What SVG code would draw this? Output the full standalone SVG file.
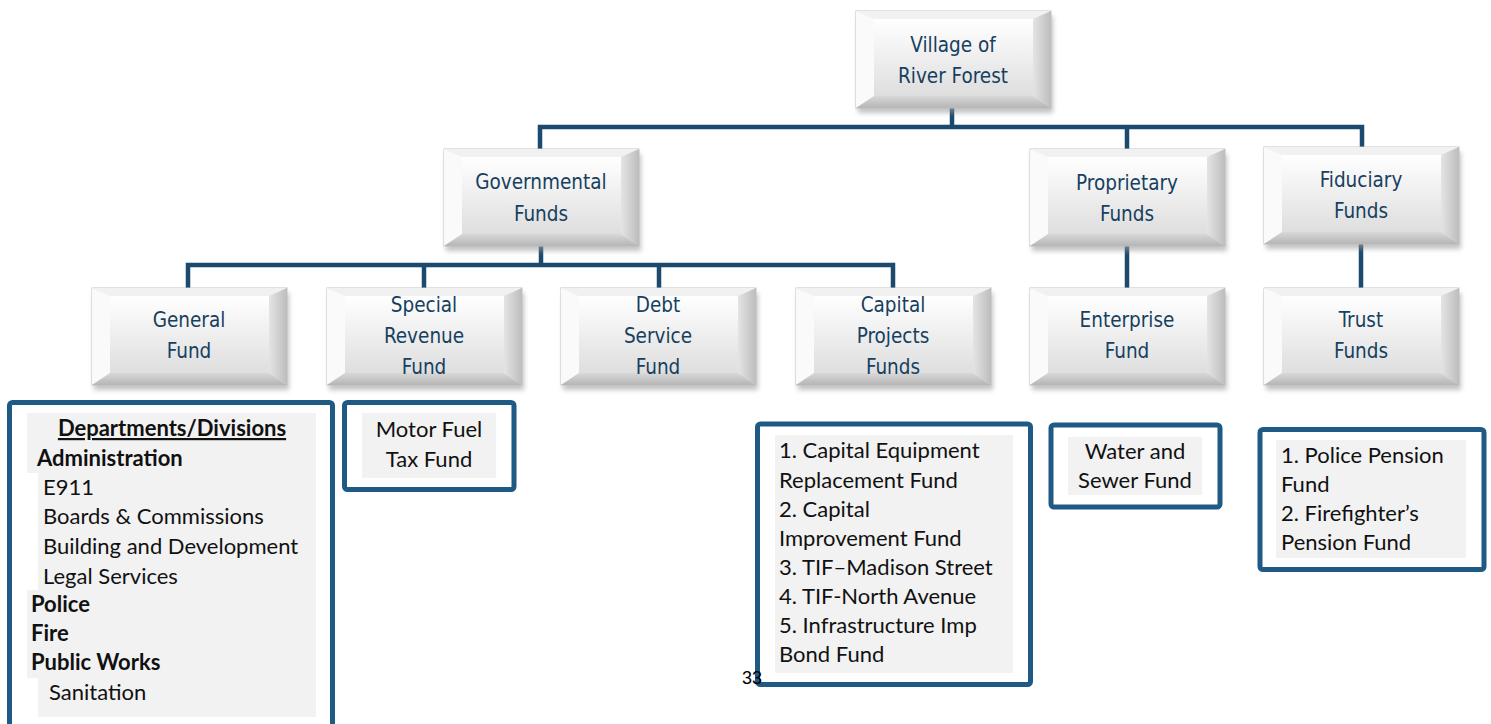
<svg xmlns="http://www.w3.org/2000/svg" xmlns:xlink="http://www.w3.org/1999/xlink" width="1491" height="724" viewBox="0 0 1491 724">
<style>
.bt{font-family:'DejaVu Sans Condensed','DejaVu Sans',sans-serif;font-stretch:condensed;font-size:20.5px;fill:#173f5f;text-anchor:middle}
.lt{font-family:Lato,'Liberation Sans',sans-serif;font-size:22px;fill:#111}
.b{font-weight:bold}
.c{text-anchor:middle}
.conn{fill:none;stroke:#1b4a6e;stroke-width:4.5;stroke-linejoin:miter;stroke-linecap:butt}
.lb{fill:#fff;stroke:#1f5a84;stroke-width:5}
.sh{fill:#f2f2f2}
</style>
<defs>
<linearGradient id="face" x1="0" y1="0" x2="0" y2="1">
<stop offset="0" stop-color="#ffffff"/>
<stop offset="1" stop-color="#dedede"/>
</linearGradient>
<linearGradient id="rb" x1="0" y1="0" x2="1" y2="0">
<stop offset="0" stop-color="#e4e4e4"/>
<stop offset="1" stop-color="#bdbdbd"/>
</linearGradient>
<linearGradient id="bb" x1="0" y1="0" x2="0" y2="1">
<stop offset="0" stop-color="#d8d8d8"/>
<stop offset="1" stop-color="#b5b5b5"/>
</linearGradient>
<filter id="shadow" x="-10%" y="-10%" width="125%" height="130%">
<feGaussianBlur stdDeviation="2.5"/>
</filter>
<g id="bevel">
<rect x="2" y="5" width="195" height="97" fill="#9a9a9a" opacity="0.6" filter="url(#shadow)"/>
<rect x="0" y="0" width="195" height="97" fill="#ececec" stroke="#c4c4c4" stroke-width="1"/>
<polygon points="0,0 195,0 177,8 18,8" fill="#f1f1f1"/>
<polygon points="0,0 18,8 18,85 0,97" fill="#fafafa"/>
<polygon points="195,0 195,97 177,85 177,8" fill="url(#rb)"/>
<polygon points="0,97 195,97 177,85 18,85" fill="url(#bb)"/>
<rect x="18" y="8" width="159" height="77" fill="url(#face)"/>
</g>
</defs>

<g id="connectors">
<path class="conn" d="M952,107 V127"/>
<path class="conn" d="M540,149 V127 H1362 V148"/>
<path class="conn" d="M1127,127 V149"/>
<path class="conn" d="M541,246 V265"/>
<path class="conn" d="M188,288 V265 H893 V288"/>
<path class="conn" d="M424,265 V288"/>
<path class="conn" d="M659,265 V288"/>
<path class="conn" d="M1127,246 V288"/>
<path class="conn" d="M1361,243 V288"/>
</g>

<g id="village">
<use xlink:href="#bevel" x="856" y="11"/>
<text class="bt" x="953" y="52">Village of</text>
<text class="bt" x="953" y="83">River Forest</text>
</g>

<g id="governmental">
<use xlink:href="#bevel" x="444" y="149"/>
<text class="bt" x="541" y="189">Governmental</text>
<text class="bt" x="541" y="221">Funds</text>
</g>

<g id="proprietary">
<use xlink:href="#bevel" x="1030" y="149"/>
<text class="bt" x="1127" y="190">Proprietary</text>
<text class="bt" x="1127" y="221">Funds</text>
</g>

<g id="fiduciary">
<use xlink:href="#bevel" x="1264" y="147"/>
<text class="bt" x="1361" y="187">Fiduciary</text>
<text class="bt" x="1361" y="218">Funds</text>
</g>

<g id="general">
<use xlink:href="#bevel" x="92" y="288"/>
<text class="bt" x="189" y="327">General</text>
<text class="bt" x="189" y="358">Fund</text>
</g>

<g id="special">
<use xlink:href="#bevel" x="327" y="288"/>
<text class="bt" x="424" y="312">Special</text>
<text class="bt" x="424" y="343">Revenue</text>
<text class="bt" x="424" y="374">Fund</text>
</g>

<g id="debt">
<use xlink:href="#bevel" x="561" y="288"/>
<text class="bt" x="658" y="312">Debt</text>
<text class="bt" x="658" y="343">Service</text>
<text class="bt" x="658" y="374">Fund</text>
</g>

<g id="capital">
<use xlink:href="#bevel" x="796" y="288"/>
<text class="bt" x="893" y="312">Capital</text>
<text class="bt" x="893" y="343">Projects</text>
<text class="bt" x="893" y="374">Funds</text>
</g>

<g id="enterprise">
<use xlink:href="#bevel" x="1030" y="288"/>
<text class="bt" x="1127" y="327">Enterprise</text>
<text class="bt" x="1127" y="358">Fund</text>
</g>

<g id="trust">
<use xlink:href="#bevel" x="1264" y="288"/>
<text class="bt" x="1361" y="327">Trust</text>
<text class="bt" x="1361" y="358">Funds</text>
</g>

<g id="departments-list">
<rect class="lb" x="9.5" y="402.5" width="323" height="340" rx="3"/>
<rect class="sh" x="27" y="413" width="289" height="60"/>
<rect class="sh" x="38" y="473" width="278" height="117"/>
<rect class="sh" x="27" y="590" width="289" height="88"/>
<rect class="sh" x="38" y="678" width="278" height="39"/>
<text class="lt b c" x="172" y="436" text-decoration="underline">Departments/Divisions</text>
<text class="lt b" x="37" y="466">Administration</text>
<text class="lt" x="43" y="495">E911</text>
<text class="lt" x="43" y="524">Boards &amp; Commissions</text>
<text class="lt" x="43" y="554">Building and Development</text>
<text class="lt" x="43" y="584">Legal Services</text>
<text class="lt b" x="31" y="612">Police</text>
<text class="lt b" x="31" y="641">Fire</text>
<text class="lt b" x="31" y="670">Public Works</text>
<text class="lt" x="49" y="700">Sanitation</text>
</g>

<g id="motor-fuel-list">
<rect class="lb" x="344.5" y="402.5" width="169.5" height="87" rx="3"/>
<rect class="sh" x="362" y="413" width="134" height="65"/>
<text class="lt c" x="429" y="437">Motor Fuel</text>
<text class="lt c" x="429" y="467">Tax Fund</text>
</g>

<g id="capital-list">
<rect class="lb" x="757.5" y="424" width="273" height="260.5" rx="3"/>
<rect class="sh" x="775" y="435" width="238" height="238"/>
<text class="lt" x="779" y="458">1. Capital Equipment</text>
<text class="lt" x="779" y="488">Replacement Fund</text>
<text class="lt" x="779" y="517">2. Capital</text>
<text class="lt" x="779" y="546">Improvement Fund</text>
<text class="lt" x="779" y="575">3. TIF–Madison Street</text>
<text class="lt" x="779" y="604">4. TIF-North Avenue</text>
<text class="lt" x="779" y="633">5. Infrastructure Imp</text>
<text class="lt" x="779" y="662">Bond Fund</text>
</g>

<g id="water-list">
<rect class="lb" x="1051" y="425" width="169" height="82" rx="3"/>
<rect class="sh" x="1068" y="437" width="134" height="58"/>
<text class="lt c" x="1135" y="459">Water and</text>
<text class="lt c" x="1135" y="488">Sewer Fund</text>
</g>

<g id="trust-list">
<rect class="lb" x="1260" y="429.5" width="224" height="140" rx="3"/>
<rect class="sh" x="1276" y="440" width="190" height="118"/>
<text class="lt" x="1281" y="463">1. Police Pension</text>
<text class="lt" x="1281" y="492">Fund</text>
<text class="lt" x="1281" y="521">2. Firefighter’s</text>
<text class="lt" x="1281" y="550">Pension Fund</text>
</g>

<text x="752" y="684" font-family="'Liberation Sans',Arial,sans-serif" font-size="18" fill="#000" text-anchor="middle">33</text>
</svg>
